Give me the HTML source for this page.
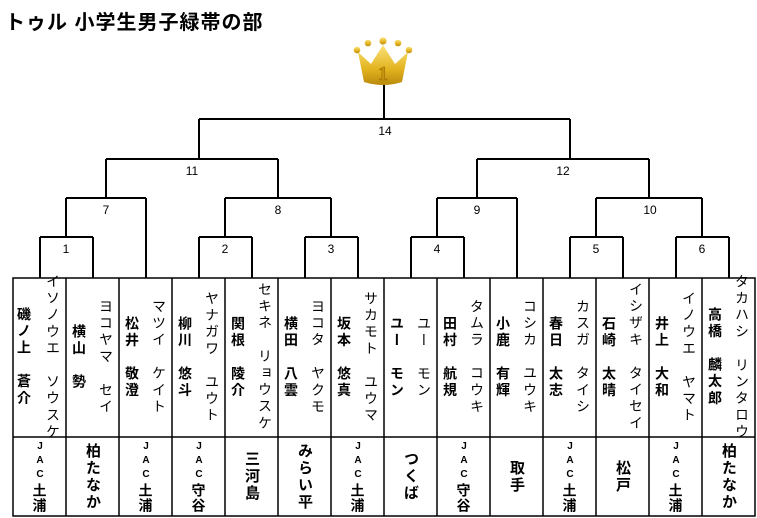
<!DOCTYPE html>
<html><head><meta charset="utf-8"><style>
body{margin:0;width:757px;height:518px;background:#fff;position:relative;overflow:hidden;font-family:"Liberation Sans","Noto Sans CJK JP",sans-serif;color:#000}
.t{position:absolute;left:5px;top:6px;font-size:20px;font-weight:bold;letter-spacing:1px}
.lb{position:absolute;font-size:12px;width:30px;text-align:center;transform:translateX(-15px)}
.v{position:absolute;top:279px;height:157px;width:20px;display:flex;align-items:center;justify-content:center;writing-mode:vertical-rl;font-size:14px;letter-spacing:2.7px;white-space:nowrap;transform:translateX(-10px)}
.k{font-weight:bold}
.c{position:absolute;top:438px;height:77px;width:53px;display:flex;align-items:center;justify-content:center;writing-mode:vertical-rl;font-weight:bold;font-size:15px;letter-spacing:2px;white-space:nowrap;line-height:1}
.c .j{font-size:14px;letter-spacing:1px}
.c .u{text-orientation:upright;font-size:10px;letter-spacing:3px}
</style></head><body>
<div class="t">トゥル 小学生男子緑帯の部</div>
<svg width="757" height="518" style="position:absolute;left:0;top:0">
<defs><linearGradient id="g" x1="0" y1="0" x2="0" y2="1"><stop offset="0" stop-color="#fbe27a"/><stop offset="0.6" stop-color="#e3b320"/><stop offset="1" stop-color="#b98a0c"/></linearGradient></defs>
<g fill="url(#g)">
<path d="M358 52 L371 64 L383 45 L395 64 L408 52 L402 82 Q383 88 364 82 Z"/>
<circle cx="357" cy="50" r="3.3"/><circle cx="368" cy="43" r="3.3"/><circle cx="383" cy="41" r="3.6"/><circle cx="398" cy="43" r="3.3"/><circle cx="409" cy="50" r="3.3"/>
</g>
<text x="383" y="80" font-family="Liberation Serif" font-weight="bold" font-size="20" text-anchor="middle" fill="#c8950f" stroke="#9b6f06" stroke-width="0.6">1</text>
<g stroke="#000" stroke-width="2" fill="none">
<path d="M384 85V119M199 119H570M199 119V159M570 119V159"/>
<path d="M106 159H278M106 159V198M278 159V198M66 198H146M66 198V237M146 198V278M225 198H331M225 198V237M331 198V237"/>
<path d="M40 237H93M40 237V278M93 237V278M199 237H252M199 237V278M252 237V278M305 237H358M305 237V278M358 237V278"/>
<path d="M477 159H649M477 159V198M649 159V198M437 198H517M437 198V237M517 198V278M596 198H702M596 198V237M702 198V237"/>
<path d="M411 237H464M411 237V278M464 237V278M570 237H623M570 237V278M623 237V278M676 237H729M676 237V278M729 237V278"/>
</g>
<g stroke="#000" stroke-width="1.5" fill="none">
<rect x="13" y="278" width="742" height="238"/>
<path d="M13 437H755M66 278V516M119 278V516M172 278V516M225 278V516M278 278V516M331 278V516M384 278V516M437 278V516M490 278V516M543 278V516M596 278V516M649 278V516M702 278V516"/>
</g>
</svg>
<div class="lb" style="left:385px;top:124px">14</div>
<div class="lb" style="left:192px;top:164px">11</div>
<div class="lb" style="left:563px;top:164px">12</div>
<div class="lb" style="left:106px;top:203px">7</div>
<div class="lb" style="left:278px;top:203px">8</div>
<div class="lb" style="left:477px;top:203px">9</div>
<div class="lb" style="left:650px;top:203px">10</div>
<div class="lb" style="left:66px;top:242px">1</div>
<div class="lb" style="left:225px;top:242px">2</div>
<div class="lb" style="left:331px;top:242px">3</div>
<div class="lb" style="left:437px;top:242px">4</div>
<div class="lb" style="left:596px;top:242px">5</div>
<div class="lb" style="left:702px;top:242px">6</div>

<div class="v k" style="left:24px">磯ノ上　蒼介</div><div class="v" style="left:53px">イソノウエ　ソウスケ</div>
<div class="v k" style="left:79px">横山　勢</div><div class="v" style="left:106px">ヨコヤマ　セイ</div>
<div class="v k" style="left:132px">松井　敬澄</div><div class="v" style="left:159px">マツイ　ケイト</div>
<div class="v k" style="left:185px">柳川　悠斗</div><div class="v" style="left:212px">ヤナガワ　ユウト</div>
<div class="v k" style="left:238px">関根　陵介</div><div class="v" style="left:265px">セキネ　リョウスケ</div>
<div class="v k" style="left:291px">横田　八雲</div><div class="v" style="left:318px">ヨコタ　ヤクモ</div>
<div class="v k" style="left:344px">坂本　悠真</div><div class="v" style="left:371px">サカモト　ユウマ</div>
<div class="v k" style="left:397px">ユー　モン</div><div class="v" style="left:424px">ユー　モン</div>
<div class="v k" style="left:450px">田村　航規</div><div class="v" style="left:477px">タムラ　コウキ</div>
<div class="v k" style="left:503px">小鹿　有輝</div><div class="v" style="left:530px">コシカ　ユウキ</div>
<div class="v k" style="left:556px">春日　太志</div><div class="v" style="left:583px">カスガ　タイシ</div>
<div class="v k" style="left:609px">石崎　太晴</div><div class="v" style="left:636px">イシザキ　タイセイ</div>
<div class="v k" style="left:662px">井上　大和</div><div class="v" style="left:689px">イノウエ　ヤマト</div>
<div class="v k" style="left:715px">高橋　麟太郎</div><div class="v" style="left:742px">タカハシ　リンタロウ</div>

<div class="c" style="left:13px"><span class="j"><span class="u">JAC</span>土浦</span></div>
<div class="c" style="left:66px">柏たなか</div>
<div class="c" style="left:119px"><span class="j"><span class="u">JAC</span>土浦</span></div>
<div class="c" style="left:172px"><span class="j"><span class="u">JAC</span>守谷</span></div>
<div class="c" style="left:225px">三河島</div>
<div class="c" style="left:278px">みらい平</div>
<div class="c" style="left:331px"><span class="j"><span class="u">JAC</span>土浦</span></div>
<div class="c" style="left:384px">つくば</div>
<div class="c" style="left:437px"><span class="j"><span class="u">JAC</span>守谷</span></div>
<div class="c" style="left:490px">取手</div>
<div class="c" style="left:543px"><span class="j"><span class="u">JAC</span>土浦</span></div>
<div class="c" style="left:596px">松戸</div>
<div class="c" style="left:649px"><span class="j"><span class="u">JAC</span>土浦</span></div>
<div class="c" style="left:702px">柏たなか</div>
</body></html>
